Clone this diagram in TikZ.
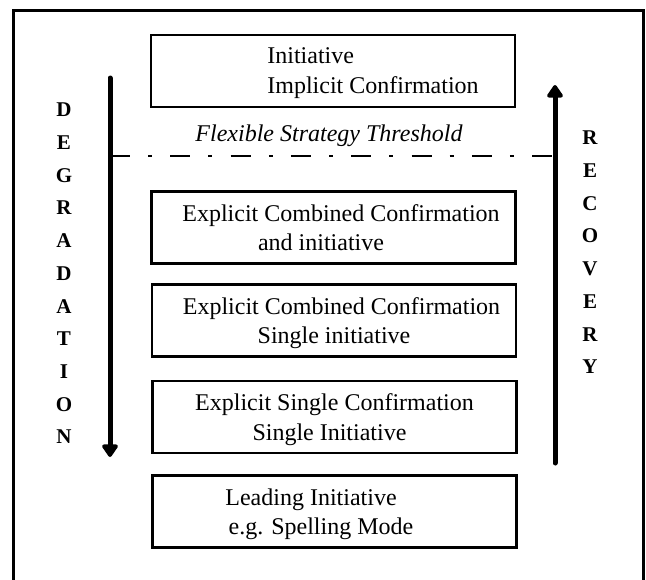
\documentclass[tikz,border=0pt]{standalone}
\usepackage{fontspec}
\setmainfont{Liberation Serif}
\usetikzlibrary{arrows.meta}
\begin{document}
\begin{tikzpicture}[x=1pt,y=-1pt,
  stagebox/.style={draw,line width=2.6pt,minimum width=364pt,minimum height=72pt,inner sep=0pt,align=center,text depth=0pt,font=\fontsize{24}{29.5}\selectfont},
  vletter/.style={font=\fontsize{21}{24}\selectfont\bfseries,inner sep=0pt},
  bigarrow/.style={line width=5pt,line cap=round,-{Triangle[width=18pt,length=14pt,round]}},
  threshold/.style={line width=2.2pt,dash pattern=on 20pt off 18.15pt on 4pt off 18.15pt}]
\useasboundingbox (0,0) rectangle (646,579);
\coordinate (fbl) at (13,585);
\coordinate (ftl) at (13,10);
\coordinate (ftr) at (643,10);
\coordinate (fbr) at (643,585);
\draw[line width=3pt] (fbl) -- (ftl) -- (ftr) -- (fbr);
\node[stagebox,align=left] (b1) at (333,70.8) {\kern80pt Initiative\\\kern80pt Implicit Confirmation};
\node[font=\fontsize{24}{24}\selectfont\itshape,inner sep=0pt,anchor=base] (flex) at (329,141) {Flexible Strategy Threshold};
\node[stagebox] (b2) at (333.5,227.5) {\kern15pt Explicit Combined Confirmation\\and initiative\kern25pt};
\node[stagebox] (b3) at (334,320.5) {\kern15pt Explicit Combined Confirmation\\Single initiative};
\node[stagebox] (b4) at (334.5,417) {Explicit Single Confirmation\\Single Initiative\kern10pt};
\node[stagebox] (b5) at (334.5,511.5) {Leading Initiative\kern47pt\\e.g. Spelling Mode\kern27pt};
\coordinate (degtop) at (110,78);
\coordinate (degbot) at (110,457);
\coordinate (rectop) at (555,85);
\coordinate (recbot) at (555,463);
\draw[bigarrow] (degtop) -- (degbot);
\draw[bigarrow] (recbot) -- (rectop);
\coordinate (thl) at (110,156);
\coordinate (thr) at (552,156);
\draw[threshold] (thl) -- (thr);
\foreach \l [count=\i] in {D,E,G,R,A,D,A,T,I,O,N}
  \node[vletter] (deg\i) at (64,{110+32.7*(\i-1)}) {\l};
\foreach \l [count=\i] in {R,E,C,O,V,E,R,Y}
  \node[vletter] (rec\i) at (590,{138+32.7*(\i-1)}) {\l};
\end{tikzpicture}
\end{document}
